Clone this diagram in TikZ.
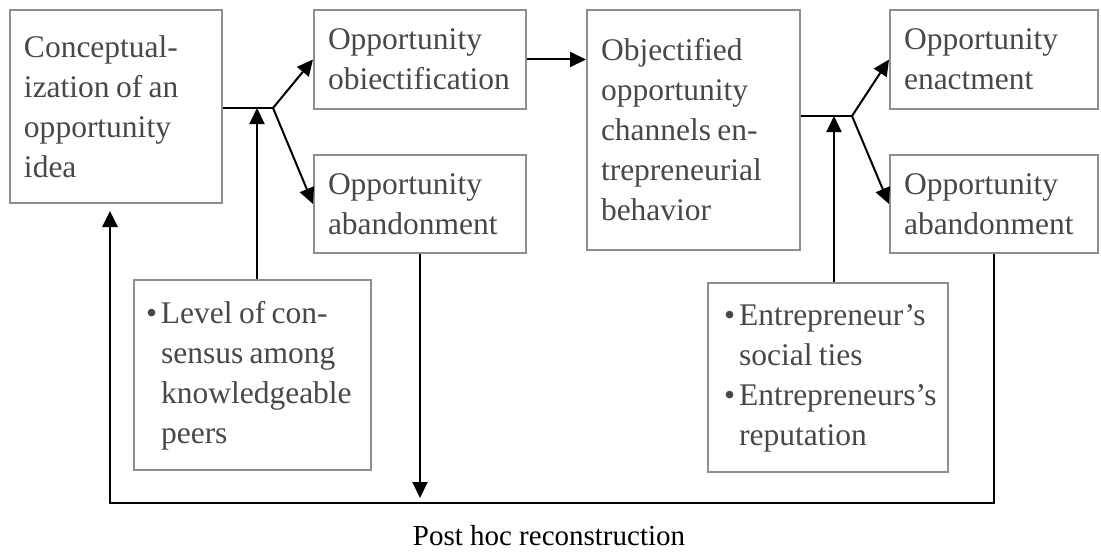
\documentclass[tikz,border=0pt]{standalone}
\usepackage{fontspec}
\setmainfont{Liberation Serif}
\usetikzlibrary{arrows.meta}
\definecolor{boxgray}{HTML}{8C8E90}
\definecolor{txtgray}{HTML}{484848}

\begin{document}
\begin{tikzpicture}[x=0.5pt,y=-0.5pt,
  box/.style={draw=boxgray, line width=1pt, text=txtgray, anchor=north west,
    align=left, inner xsep=7pt, inner ysep=0pt,
    font=\fontsize{15.75}{20}\selectfont,
    execute at begin node={\spaceskip 0.2em\xspaceskip 0.2em\relax}},
  conn/.style={line width=1pt, -{Triangle[length=8pt,width=7.5pt]}},
  loopline/.style={line width=1.35pt, -{Triangle[length=8pt,width=7.5pt]}}]
\useasboundingbox (0,0) rectangle (1101,551);

% boxes
\node[box, minimum width=106pt, minimum height=96.5pt, text width=92pt] (A) at (9,9)
  {Conceptual-\\ization of an\\opportunity\\idea};
\node[box, minimum width=106pt, minimum height=49.5pt, text width=92pt] (B) at (313,9)
  {Opportunity\\obiectification};
\node[box, minimum width=106pt, minimum height=49pt, text width=92pt] (C) at (313,154)
  {Opportunity\\abandonment};
\node[box, minimum width=106.5pt, minimum height=120pt, text width=92.5pt] (D) at (586,9)
  {Objectified\\opportunity\\channels en-\\trepreneurial\\behavior};
\node[box, minimum width=104pt, minimum height=49.5pt, text width=90pt] (E) at (889,9)
  {Opportunity\\enactment};
\node[box, minimum width=104pt, minimum height=49pt, text width=90pt] (F) at (889,154)
  {Opportunity\\abandonment};
\node[box, inner xsep=6pt, minimum width=118.5pt, minimum height=95pt, text width=106.5pt] (G) at (133,279)
  {\begin{tabular}{@{}l@{\hspace{2pt}}l@{}}
   \textbullet & Level of con-\\ & sensus among\\ & knowledgeable\\ & peers
   \end{tabular}};
\node[box, inner xsep=8pt, minimum width=120pt, minimum height=94.5pt, text width=104pt] (H) at (707,282)
  {\begin{tabular}{@{}l@{\hspace{2pt}}l@{}}
   \textbullet & Entrepreneur’s\\ & social ties\\
   \textbullet & Entrepreneurs’s\\ & reputation
   \end{tabular}};
\node[font=\fontsize{14.5}{18}\selectfont] (post) at (549,536) {Post hoc reconstruction};

% junctions
\coordinate (j1) at (273,108);
\coordinate (g1) at (257,108);
\coordinate (j2) at (852,116);
\coordinate (h1) at (834,116);
\coordinate (bl) at (110,503);

% connectors
\draw[line width=1pt] (A.east |- j1) -- (j1);
\draw[conn] (j1) -- (B.west);
\draw[conn] (j1) -- (C.west);
\draw[conn] (G.north -| g1) -- (g1);
\draw[conn] (B.east) -- (B.east -| D.west);
\draw[line width=1pt] (j2 -| D.east) -- (j2);
\draw[conn] (j2) -- (E.west);
\draw[conn] (j2) -- (F.west);
\draw[conn] (H.north -| h1) -- (h1);
\draw[conn, shorten >=2.5pt] (C.south) -- (C.south |- bl);
\draw[loopline, shorten >=3.5pt] (F.south) |- (bl) -- (bl |- A.south);
\end{tikzpicture}
\end{document}
